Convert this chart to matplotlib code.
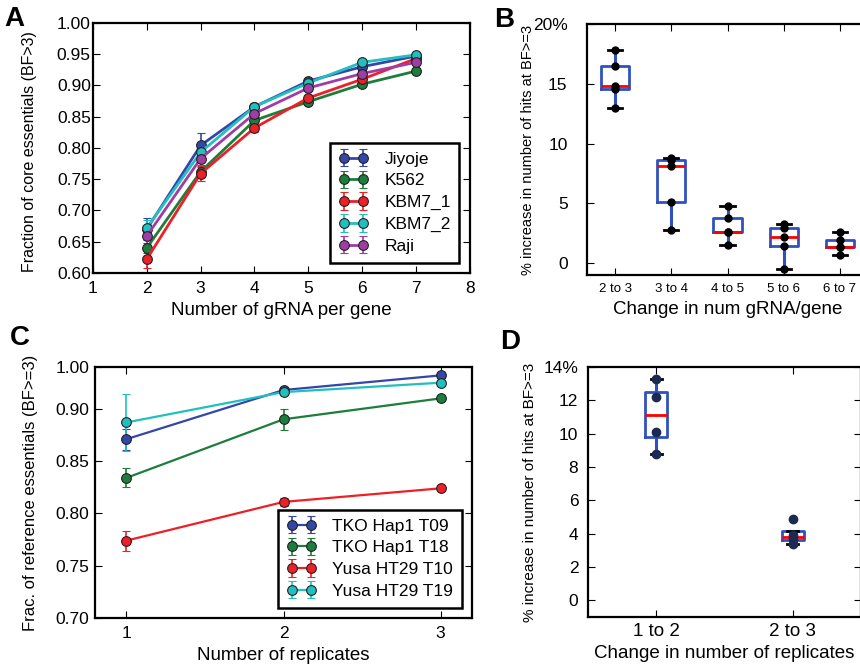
import matplotlib
matplotlib.use("Agg")
import matplotlib.pyplot as plt
import numpy as np

plt.rcParams["font.family"] = ["Liberation Sans", "DejaVu Sans"]

# --- Panel A data ---
a_x = [2, 3, 4, 5, 6, 7]
a_names = ["Jiyoje", "K562", "KBM7_1", "KBM7_2", "Raji"]
jiyoje = [0.670, 0.804, 0.866, 0.907, 0.930, 0.947]
k562 = [0.640, 0.762, 0.844, 0.874, 0.902, 0.923]
kbm7_1 = [0.622, 0.759, 0.832, 0.880, 0.910, 0.943]
kbm7_2 = [0.672, 0.793, 0.866, 0.904, 0.937, 0.949]
raji = [0.659, 0.783, 0.855, 0.896, 0.919, 0.937]
jiyoje_err = [0.018, 0.020, 0.006, 0.004, 0.005, 0.004]
k562_err = [0.008, 0.008, 0.005, 0.004, 0.004, 0.004]
kbm7_1_err = [0.014, 0.012, 0.006, 0.004, 0.004, 0.004]
kbm7_2_err = [0.013, 0.008, 0.005, 0.004, 0.005, 0.004]
raji_err = [0.015, 0.010, 0.006, 0.004, 0.004, 0.004]

# --- Panel B data ---
b_labels = ["2 to 3", "3 to 4", "4 to 5", "5 to 6", "6 to 7"]
b_2to3 = [13.0, 14.6, 14.8, 16.5, 17.8]
b_3to4 = [2.8, 5.1, 8.1, 8.6, 8.8]
b_4to5 = [1.5, 2.6, 2.6, 3.8, 4.8]
b_5to6 = [-0.5, 1.4, 2.2, 2.9, 3.3]
b_6to7 = [0.7, 1.3, 1.35, 1.9, 2.6]

# --- Panel C data ---
c_x = [1, 2, 3]
c_names = ["TKO Hap1 T09", "TKO Hap1 T18", "Yusa HT29 T10", "Yusa HT29 T19"]
hap1_t09 = [0.871, 0.918, 0.932]
hap1_t18 = [0.834, 0.890, 0.910]
ht29_t10 = [0.774, 0.811, 0.824]
ht29_t19 = [0.887, 0.916, 0.925]
hap1_t09_err = [0.010, 0.003, 0.002]
hap1_t18_err = [0.009, 0.010, 0.002]
ht29_t10_err = [0.0095, 0.004, 0.002]
ht29_t19_err = [0.027, 0.003, 0.002]
c_ytick_labels = ["0.70", "0.75", "0.80", "0.85", "0.90", "1.00"]

# --- Panel D data ---
d_labels = ["1 to 2", "2 to 3"]
d_1to2 = [8.8, 10.1, 12.2, 13.3]
d_2to3 = [3.4, 3.7, 3.9, 4.9]

colors = ["#3447a8", "#1d7d3c", "#ee1f26", "#21bfc0", "#a03ca6"]
box_blue = "#3050c0"


def style_axes(ax, ypad):
    for s in ax.spines.values():
        s.set_linewidth(1.6)
    ax.tick_params(direction="in", top=True, right=True, length=5, width=0.8,
                   labelsize=12.5)
    ax.tick_params(axis="x", pad=6)
    ax.tick_params(axis="y", pad=ypad)


def boxed_legend(ax):
    leg = ax.legend(loc="lower right", numpoints=2, fontsize=12.5, fancybox=False,
                    handlelength=1.7, handletextpad=0.9, borderpad=0.5,
                    labelspacing=0.38, framealpha=1, borderaxespad=0.6)
    leg.get_frame().set_edgecolor("black")
    leg.get_frame().set_linewidth(1.8)
    return leg


fig = plt.figure(figsize=(8.6, 6.65), dpi=100)

# Panel A
axA = fig.add_axes([0.108, 0.5895, 0.4384, 0.376])
for name, y, e, c in zip(a_names, [jiyoje, k562, kbm7_1, kbm7_2, raji],
                         [jiyoje_err, k562_err, kbm7_1_err, kbm7_2_err, raji_err], colors):
    axA.errorbar(a_x, y, yerr=e, color=c, lw=2, marker="o", ms=7, mec="#222222",
                 mew=0.8, capsize=3, elinewidth=1.2, label=name)
axA.set_xlim(1, 8)
axA.set_ylim(0.60, 1.00)
axA.set_yticks(np.arange(0.60, 1.001, 0.05))
style_axes(axA, 1.5)
axA.set_xlabel("Number of gRNA per gene", fontsize=13.5)
axA.set_ylabel("Fraction of core essentials (BF>3)", fontsize=11.5)
axA.yaxis.set_label_coords(-0.147, 0.485)
boxed_legend(axA)

# Panel B
axB = fig.add_axes([0.6826, 0.5865, 0.3267, 0.3774])
b_data = [b_2to3, b_3to4, b_4to5, b_5to6, b_6to7]
axB.boxplot(b_data, widths=0.5, whis=3.0, showfliers=False,
            boxprops=dict(color=box_blue, lw=2),
            whiskerprops=dict(color=box_blue, lw=2.2),
            capprops=dict(color="black", lw=2),
            medianprops=dict(color="red", lw=2))
for i, vals in enumerate(b_data):
    axB.plot([i + 1] * len(vals), vals, "o", color="black", ms=5, zorder=5)
axB.set_xlim(0.5, 5.5)
axB.set_ylim(-1, 20)
axB.set_yticks([0, 5, 10, 15, 20])
axB.set_yticklabels(["0", "5", "10", "15", "20%"])
axB.set_xticks(range(1, 6))
axB.set_xticklabels(b_labels)
style_axes(axB, 14)
axB.tick_params(axis="x", labelsize=9.5)
axB.set_xlabel("Change in num gRNA/gene", fontsize=13.5)
axB.set_ylabel("% increase in number of hits at BF>=3", fontsize=10.5)
axB.yaxis.set_label_coords(-0.185, 0.5)

# Panel C
axC = fig.add_axes([0.1105, 0.0707, 0.4384, 0.3774])
for name, y, e, c in zip(c_names, [hap1_t09, hap1_t18, ht29_t10, ht29_t19],
                         [hap1_t09_err, hap1_t18_err, ht29_t10_err, ht29_t19_err],
                         colors[:4]):
    axC.errorbar(c_x, y, yerr=e, color=c, lw=1.6, marker="o", ms=7, mec="#222222",
                 mew=0.8, capsize=3, elinewidth=1.2, label=name)
axC.set_xlim(0.8, 3.2)
axC.set_ylim(0.70, 0.94)
axC.set_yticks([0.70, 0.75, 0.80, 0.85, 0.90, 0.94])
axC.set_yticklabels(c_ytick_labels)
axC.set_xticks(c_x)
style_axes(axC, 4)
axC.set_xlabel("Number of replicates", fontsize=13.5)
axC.set_ylabel("Frac. of reference essentials (BF>=3)", fontsize=12)
axC.yaxis.set_label_coords(-0.152, 0.5)
boxed_legend(axC)

# Panel D
axD = fig.add_axes([0.6837, 0.0722, 0.3174, 0.3759])
d_data = [d_1to2, d_2to3]
axD.boxplot(d_data, widths=0.16, whis=1.0, showfliers=False,
            boxprops=dict(color=box_blue, lw=2),
            whiskerprops=dict(color=box_blue, lw=2.2),
            capprops=dict(color="black", lw=2),
            medianprops=dict(color="red", lw=2))
for i, vals in enumerate(d_data):
    axD.plot([i + 1] * len(vals), vals, "o", color="#1a2a50", ms=6, zorder=5)
axD.set_xlim(0.5, 2.5)
axD.set_ylim(-1, 14)
axD.set_yticks(range(0, 15, 2))
axD.set_yticklabels([str(v) for v in range(0, 14, 2)] + ["14%"])
axD.set_xticks([1, 2])
axD.set_xticklabels(d_labels)
style_axes(axD, 7)
axD.tick_params(axis="x", labelsize=13.5, pad=4)
axD.set_xlabel("Change in number of replicates", fontsize=13.5)
axD.set_ylabel("% increase in number of hits at BF>=3", fontsize=11)
axD.yaxis.set_label_coords(-0.185, 0.5)

# panel letters
for lbl, x, y in [("A", 0.005, 0.972), ("B", 0.574, 0.970),
                  ("C", 0.012, 0.492), ("D", 0.581, 0.486)]:
    fig.text(x, y, lbl, fontsize=20, fontweight="bold", va="center")

fig.savefig("out.png", dpi=100)
